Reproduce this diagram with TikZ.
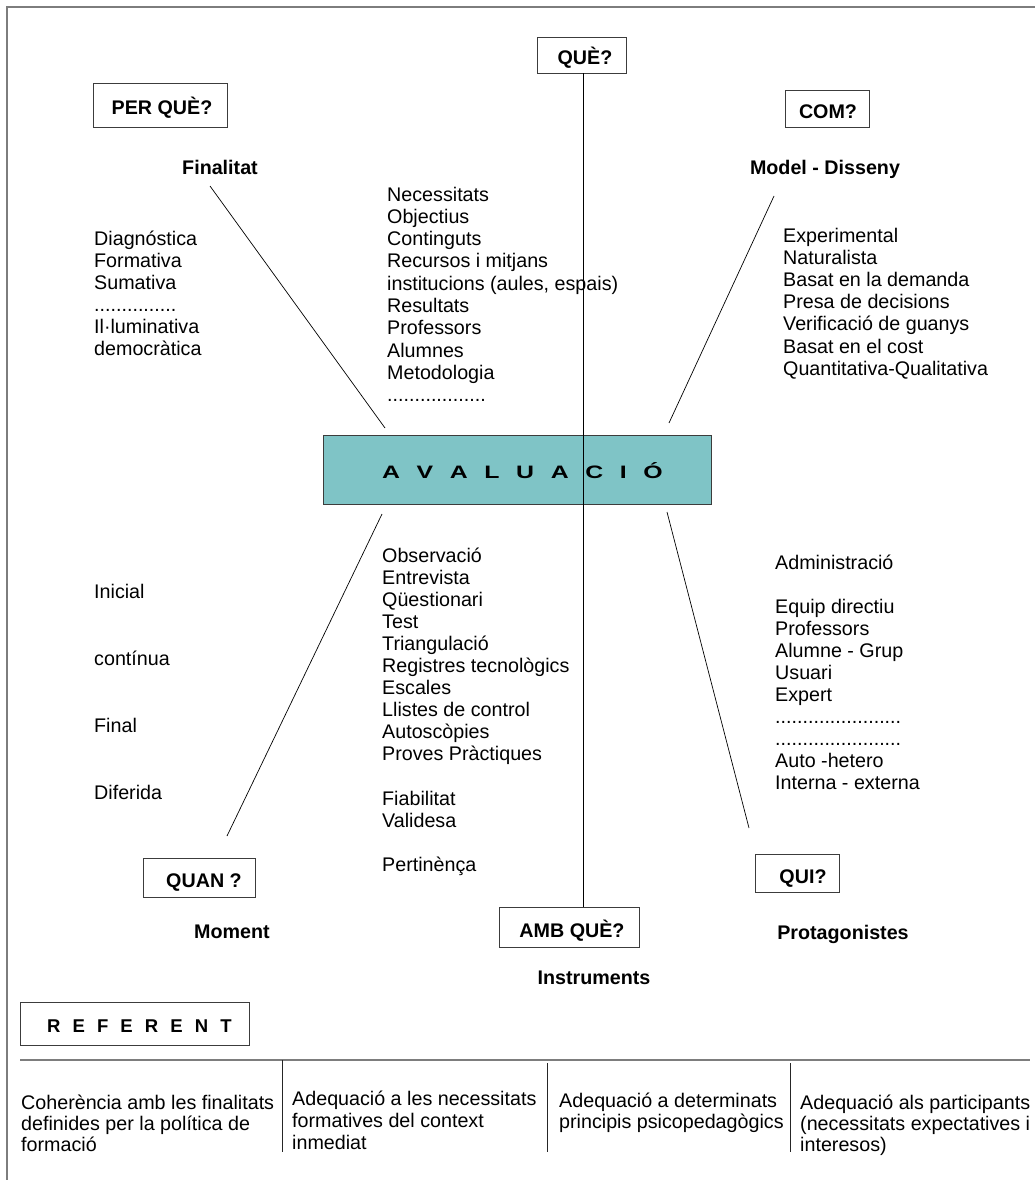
\documentclass[tikz,border=0pt]{standalone}
\usepackage{fontspec}
\usepackage{graphicx}
\setmainfont{Liberation Sans}
\newcommand{\itemfont}{\fontsize{19.7}{22}\selectfont}
\newcommand{\wideletter}[1]{\scalebox{1.38}[1]{#1}}
\definecolor{panel}{RGB}{127,196,198}
\definecolor{framegray}{RGB}{125,125,125}
\definecolor{edgegray}{RGB}{60,60,60}
\begin{document}
\begin{tikzpicture}[x=1pt,y=-1pt,
  item/.style={font=\itemfont, anchor=base west, inner sep=0pt},
  head/.style={font=\itemfont\bfseries, anchor=base, inner sep=0pt},
  qbox/.style={draw=edgegray, line width=0.9pt, fill=white, inner sep=0pt,
               text height=20pt, text depth=0pt, font=\itemfont\bfseries},
  conn/.style={draw=black, line width=0.7pt},
  rule/.style={draw=framegray, line width=1.6pt},
  divider/.style={draw=black!85, line width=0.7pt}]

\path[use as bounding box, fill=white] (0,0) rectangle (1035,1180);

% page frame and the rule above the referent table
\draw[rule] (7,1180) -- (7,7) -- (1035,7);
\draw[rule] (20,1060) -- (1030,1060);

% question boxes
\node[qbox, minimum width=134, minimum height=44] (perque) at (160,105) {\hspace*{4pt}PER QUÈ?};
\node[qbox, minimum width=89, minimum height=36] (que) at (581.5,55) {\hspace*{7pt}QUÈ?};
\node[qbox, minimum width=84, minimum height=37] (com) at (827,108.5) {\hspace*{2pt}COM?};
\node[qbox, minimum width=112, minimum height=39] (quan) at (199,877.5) {\hspace*{10pt}QUAN ?};
\node[qbox, minimum width=84, minimum height=38] (qui) at (797,873) {\hspace*{12pt}QUI?};
\node[qbox, minimum width=140, minimum height=40] (ambque) at (569,927) {\hspace*{6pt}AMB QUÈ?};

% referent box with letter-spaced title
\node[qbox, minimum width=229, minimum height=43] (referent) at (134.5,1023.5) {};
\node[anchor=base west, inner sep=0pt, font=\fontsize{18.5}{22}\selectfont\bfseries] (referentlbl) at (47,1032)
  {R\hspace{12.1pt}E\hspace{12.1pt}F\hspace{12.1pt}E\hspace{12.1pt}R\hspace{12.1pt}E\hspace{12.1pt}N\hspace{12.1pt}T};

% central box
\node[draw=edgegray, line width=0.9pt, fill=panel, minimum width=388, minimum height=69, inner sep=0pt] (aval) at (517,469.5) {};
\node[anchor=base west, inner sep=0pt, font=\fontsize{18}{22}\selectfont\bfseries] (avallbl) at (382,478)
  {\wideletter{A}\hspace{16.6pt}\wideletter{V}\hspace{16.6pt}\wideletter{A}\hspace{16.6pt}\wideletter{L}\hspace{16.6pt}\wideletter{U}\hspace{16.6pt}\wideletter{A}\hspace{16.6pt}\wideletter{C}\hspace{16.6pt}\wideletter{I}\hspace{16.6pt}\wideletter{Ó}};

% axis from QUÈ? to AMB QUÈ?
\coordinate (axis) at (583,0);
\draw[conn] (que.south -| axis) -- (ambque.north -| axis);

% diagonal spokes
\coordinate (finA) at (385,428); \coordinate (finB) at (210,186);
\coordinate (comA) at (669,423); \coordinate (comB) at (774,196);
\coordinate (momA) at (382,514); \coordinate (momB) at (227,836);
\coordinate (quiA) at (667,512); \coordinate (quiB) at (749,828);
\draw[conn] (finA) -- (finB);
\draw[conn] (comA) -- (comB);
\draw[conn] (momA) -- (momB);
\draw[conn] (quiA) -- (quiB);

% headings
\node[head] (finalitat) at (220,174) {Finalitat};
\node[head] (model) at (825,174) {Model - Disseny};
\node[head] (moment) at (232,938) {Moment};
\node[head] (protag) at (843,939) {Protagonistes};
\node[head] (instr) at (594,984) {Instruments};

% Finalitat
\foreach \t [count=\i from 0] in {Diagnóstica, Formativa, Sumativa}
  \node[item] (fin\i) at (94,{245+22*\i}) {\t};
\node[item] (fin3) at (94,311) {...............};
\node[item] (fin4) at (94,333) {Il·luminativa};
\node[item] (fin5) at (94,355) {democràtica};

% Què
\foreach \t [count=\i from 0] in {Necessitats, Objectius, Continguts, Recursos i mitjans,
    {institucions (aules, espais)}, Resultats, Professors, Alumnes, Metodologia}
  \node[item] (que\i) at (387,{201+22.3*\i}) {\t};
\node[item] (que9) at (387,401.7) {..................};

% Model - Disseny
\foreach \t [count=\i from 0] in {Experimental, Naturalista, Basat en la demanda, Presa de decisions,
    Verificació de guanys, Basat en el cost, Quantitativa-Qualitativa}
  \node[item] (mod\i) at (783,{242+22.2*\i}) {\t};

% Moment
\foreach \t [count=\i from 0] in {Inicial, contínua, Final, Diferida}
  \node[item] (mom\i) at (94,{598+67.3*\i}) {\t};

% Instruments
\foreach \i/\t in {0/Observació, 1/Entrevista, 2/Qüestionari, 3/Test, 4/Triangulació,
    5/Registres tecnològics, 6/Escales, 7/Llistes de control, 8/Autoscòpies,
    9/Proves Pràctiques, 11/Fiabilitat, 12/Validesa, 14/Pertinènça}
  \node[item] (ins\i) at (382,{562+22.1*\i}) {\t};

% Protagonistes
\foreach \i/\t in {0/Administració, 2/Equip directiu, 3/Professors, 4/Alumne - Grup,
    5/Usuari, 6/Expert, 9/Auto -hetero, 10/Interna - externa}
  \node[item] (pro\i) at (775,{569+22*\i}) {\t};
\node[item] (pro7) at (775,723) {.......................};
\node[item] (pro8) at (775,745) {.......................};

% referent table
\draw[divider] (282,1060) -- (282,1152);
\draw[divider] (547,1063) -- (547,1152);
\draw[divider] (790,1063) -- (790,1152);

\node[item] (refa0) at (21,1109) {Coherència amb les finalitats};
\node[item] (refa1) at (21,1130) {definides per la política de};
\node[item] (refa2) at (21,1151) {formació};

\node[item] (refb0) at (292,1105) {Adequació a les necessitats};
\node[item] (refb1) at (292,1127) {formatives del context};
\node[item] (refb2) at (292,1149) {inmediat};

\node[item] (refc0) at (559,1107) {Adequació a determinats};
\node[item] (refc1) at (559,1128) {principis psicopedagògics};

\node[item] (refd0) at (800,1109) {Adequació als participants};
\node[item] (refd1) at (800,1130) {(necessitats expectatives i};
\node[item] (refd2) at (800,1151) {interesos)};

\end{tikzpicture}
\end{document}
